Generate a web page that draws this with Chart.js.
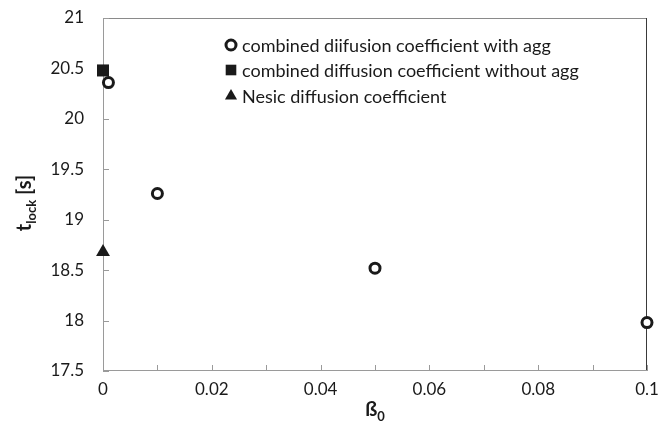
<!DOCTYPE html>
<html>
<head>
<meta charset="utf-8">
<script src="https://cdn.jsdelivr.net/npm/chart.js@4.4.0/dist/chart.umd.min.js"></script>
<style>
  body { margin: 0; background: #fff; }
  canvas { display: block; }
</style>
</head>
<body>
<canvas id="lockChart" width="671" height="436"></canvas>
<script>
// lock time vs. beta_0 for the three diffusion coefficient models
const betaAgg = [0.001, 0.01, 0.05, 0.1];
const tLockAgg = [20.36, 19.26, 18.52, 17.98];
const betaNoAgg = [0];
const tLockNoAgg = [20.48];
const betaNesic = [0];
const tLockNesic = [18.68];
const seriesLabels = [
    'combined diifusion coefficient with agg',
    'combined diffusion coefficient without agg',
    'Nesic diffusion coefficient'
];

const FONT = 'Lato, "Open Sans", sans-serif';
const INK = '#1a1a1a';

function toPoints(xs, ys) {
    return xs.map((x, i) => ({ x: x, y: ys[i] }));
}

function fmt(v) {
    return String(Number(v.toFixed(3)));
}

// axis box and inward tick marks, drawn under the markers
const frame = {
    id: 'frame',
    beforeDatasetsDraw(chart) {
        const { ctx, chartArea: a, scales } = chart;
        ctx.save();
        ctx.lineWidth = 1;

        ctx.strokeStyle = '#8a8a8a';
        ctx.beginPath();
        ctx.moveTo(a.left, a.top + 0.5);
        ctx.lineTo(a.right, a.top + 0.5);
        ctx.stroke();

        ctx.strokeStyle = '#3a3a3a';
        ctx.beginPath();
        ctx.moveTo(a.right - 0.5, a.top);
        ctx.lineTo(a.right - 0.5, a.bottom);
        ctx.stroke();

        ctx.strokeStyle = '#9a9a9a';
        ctx.beginPath();
        ctx.moveTo(a.left + 0.5, a.top);
        ctx.lineTo(a.left + 0.5, a.bottom);
        ctx.moveTo(a.left, a.bottom - 0.5);
        ctx.lineTo(a.right, a.bottom - 0.5);
        scales.y.ticks.forEach(t => {
            const py = Math.round(scales.y.getPixelForValue(t.value)) + 0.5;
            ctx.moveTo(a.left, py);
            ctx.lineTo(a.left + 6, py);
        });
        scales.x.ticks.forEach(t => {
            const px = Math.round(scales.x.getPixelForValue(t.value)) + 0.5;
            ctx.moveTo(px, a.bottom);
            ctx.lineTo(px, a.bottom - 6);
        });
        ctx.stroke();
        ctx.restore();
    }
};

// axis titles with subscripts and the in-plot legend
const overlay = {
    id: 'overlay',
    afterDraw(chart) {
        const { ctx, chartArea: a } = chart;
        ctx.save();
        ctx.fillStyle = INK;
        ctx.textBaseline = 'alphabetic';

        // x title: ß with subscript 0
        const big = 'bold 20px ' + FONT;
        const small = 'bold 13px ' + FONT;
        ctx.font = big;
        const wB = ctx.measureText('ß').width;
        ctx.font = small;
        const w0 = ctx.measureText('0').width;
        let xs = (a.left + a.right) / 2 - (wB + w0) / 2;
        const yBase = 416;
        ctx.font = big;
        ctx.fillText('ß', xs, yBase);
        ctx.font = small;
        ctx.fillText('0', xs + wB, yBase + 5);

        // y title: t with subscript lock, then [s]
        ctx.translate(31, 203);
        ctx.rotate(-Math.PI / 2);
        ctx.font = big;
        const wt = ctx.measureText('t').width;
        const ws = ctx.measureText(' [s]').width;
        ctx.font = small;
        const wl = ctx.measureText('lock').width;
        let cx = -(wt + wl + ws) / 2;
        ctx.font = big;
        ctx.fillText('t', cx, 0);
        ctx.font = small;
        ctx.fillText('lock', cx + wt, 5);
        ctx.font = big;
        ctx.fillText(' [s]', cx + wt + wl, 0);
        ctx.setTransform(1, 0, 0, 1, 0, 0);

        // legend
        ctx.font = '18px ' + FONT;
        ctx.textBaseline = 'middle';
        const rows = [45, 70, 96];
        chart.data.datasets.forEach((ds, i) => {
            const my = rows[i];
            ctx.fillStyle = ds.backgroundColor;
            ctx.strokeStyle = ds.borderColor;
            ctx.lineWidth = ds.borderWidth;
            Chart.helpers.drawPoint(ctx, {
                pointStyle: ds.pointStyle,
                radius: ds.legendRadius,
                rotation: 0,
                borderWidth: ds.borderWidth
            }, 231, my);
            ctx.fillStyle = INK;
            ctx.fillText(ds.label, 242, my + 1);
        });
        ctx.restore();
    }
};

new Chart(document.getElementById('lockChart'), {
    type: 'scatter',
    data: {
        datasets: [
            {
                label: seriesLabels[0],
                data: toPoints(betaAgg, tLockAgg),
                pointStyle: 'circle',
                pointRadius: 5,
                legendRadius: 5,
                borderWidth: 3,
                borderColor: INK,
                backgroundColor: '#ffffff',
                clip: false
            },
            {
                label: seriesLabels[1],
                data: toPoints(betaNoAgg, tLockNoAgg),
                pointStyle: 'rect',
                pointRadius: 8.5,
                legendRadius: 7.5,
                borderWidth: 0,
                borderColor: INK,
                backgroundColor: INK,
                clip: false
            },
            {
                label: seriesLabels[2],
                data: toPoints(betaNesic, tLockNesic),
                pointStyle: 'triangle',
                pointRadius: 8,
                legendRadius: 7,
                borderWidth: 0,
                borderColor: INK,
                backgroundColor: INK,
                clip: false
            }
        ]
    },
    options: {
        responsive: false,
        animation: false,
        layout: { padding: { left: 0, right: 24, top: 18, bottom: 0 } },
        plugins: {
            legend: { display: false },
            tooltip: { enabled: false }
        },
        scales: {
            x: {
                type: 'linear',
                min: 0,
                max: 0.1,
                grid: { display: false, drawTicks: false },
                border: { display: false },
                ticks: {
                    stepSize: 0.01,
                    padding: 8,
                    color: INK,
                    font: { family: FONT, size: 17 },
                    maxRotation: 0,
                    autoSkip: false,
                    callback: (v) => {
                        const k = Math.round(v * 100);
                        return k % 2 === 0 ? fmt(v) : '';
                    }
                },
                afterFit: (s) => {
                    s.height = 65;
                    s.paddingLeft = 0;
                    s.paddingRight = 0;
                }
            },
            y: {
                type: 'linear',
                min: 17.5,
                max: 21,
                grid: { display: false, drawTicks: false },
                border: { display: false },
                ticks: {
                    stepSize: 0.5,
                    padding: 19,
                    color: INK,
                    font: { family: FONT, size: 17 },
                    callback: (v) => fmt(v)
                },
                afterFit: (s) => {
                    s.width = 103;
                    s.paddingTop = 0;
                    s.paddingBottom = 0;
                }
            }
        }
    },
    plugins: [frame, overlay]
});
</script>
</body>
</html>
